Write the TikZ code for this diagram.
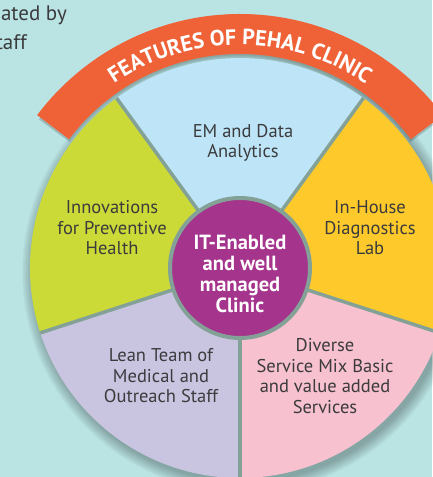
\documentclass[tikz,border=0pt]{standalone}
\usepackage{fontspec}
\setmainfont{PT Sans}
\usetikzlibrary{decorations.text,calc}
\definecolor{bgc}{HTML}{BAE3E3}
\definecolor{bandc}{HTML}{EF6237}
\definecolor{bluec}{HTML}{BDE5F7}
\definecolor{greenc}{HTML}{CCDA37}
\definecolor{yellowc}{HTML}{FECA2B}
\definecolor{lavc}{HTML}{C9C5E1}
\definecolor{pinkc}{HTML}{F7C1CF}
\definecolor{purplec}{HTML}{A5348C}
\definecolor{edgec}{HTML}{84A197}
\definecolor{txtc}{HTML}{3B3B3D}
\begin{document}
\begin{tikzpicture}[x=1pt,y=1pt,
  segtext/.style={text=txtc, align=center, font=\fontsize{18.5}{20.5}\selectfont, inner sep=0pt},
  hubtext/.style={text=white, align=center, font=\fontsize{20.5}{20.8}\selectfont\bfseries, inner sep=0pt},
  divider/.style={draw=edgec, line width=3.5pt},
  cuttext/.style={text=txtc, font=\fontsize{21}{21}\selectfont, inner sep=0pt, anchor=base east},
]
\useasboundingbox (0,0) rectangle (432,477);
\fill[bgc] (0,0) rectangle (432,477);
\coordinate (C) at (240,209);
% soft shadow of the pie
\foreach \k in {0,...,11}{
  \fill[black,opacity=0.022] ($(C)+(3,-4)$) circle[radius=221-\k];
}
% segments
\foreach \a/\b/\c in {54/126/bluec,126/198/greenc,198/270/lavc,270/342/pinkc,342/414/yellowc}{
  \fill[\c] (C) -- ++(\a:210) arc[start angle=\a, end angle=\b, radius=210] -- cycle;
}
% dividers
\foreach \a in {54,126,198,270,342}{
  \draw[divider] ($(C)+(\a:60)$) -- ($(C)+(\a:210)$);
}
% hub
\node[circle, fill=purplec, draw=edgec, line width=4pt, minimum size=140pt, inner sep=0pt] (hub) at (C) {};
\node[hubtext] (hubt) at (240,203) {IT-Enabled\\and well\\managed\\Clinic};
% band shadow
\foreach \k in {0,...,5}{
  \fill[black,opacity=0.03] ($(C)+(143.5:213-\k*0.4)$) arc[start angle=143.5, end angle=36.5, radius=213-\k*0.4] -- ($(C)+(36.5:250)$) arc[start angle=36.5, end angle=143.5, radius=250] -- cycle;
}
% band
\fill[bandc] ($(C)+(143:214)$) arc[start angle=143, end angle=37, radius=214] -- ($(C)+(37:254)$) arc[start angle=37, end angle=143, radius=254] -- cycle;
\path[decorate, decoration={text along path, text align=center, text color=white,
  text={|\fontsize{22}{22}\selectfont\bfseries|FEATURES OF PEHAL CLINIC}}]
  ($(C)+(143:223)$) arc[start angle=143, end angle=37, radius=223];
% segment texts
\node[segtext] (em) at (243,334) {EM and Data\\Analytics};
\node[segtext] (innov) at (112,249) {Innovations\\for Preventive\\Health};
\node[segtext] (lab) at (370,249) {In-House\\Diagnostics\\Lab};
\node[segtext] (lean) at (161,101) {Lean Team of\\Medical and\\Outreach Staff};
\node[segtext] (div) at (325,101) {Diverse\\Service Mix Basic\\and value added\\Services};
% cut-off text at top left
\node[cuttext] (t1) at (67,456) {ated by};
\node[cuttext] (t2) at (27,427) {taff};
\end{tikzpicture}
\end{document}
